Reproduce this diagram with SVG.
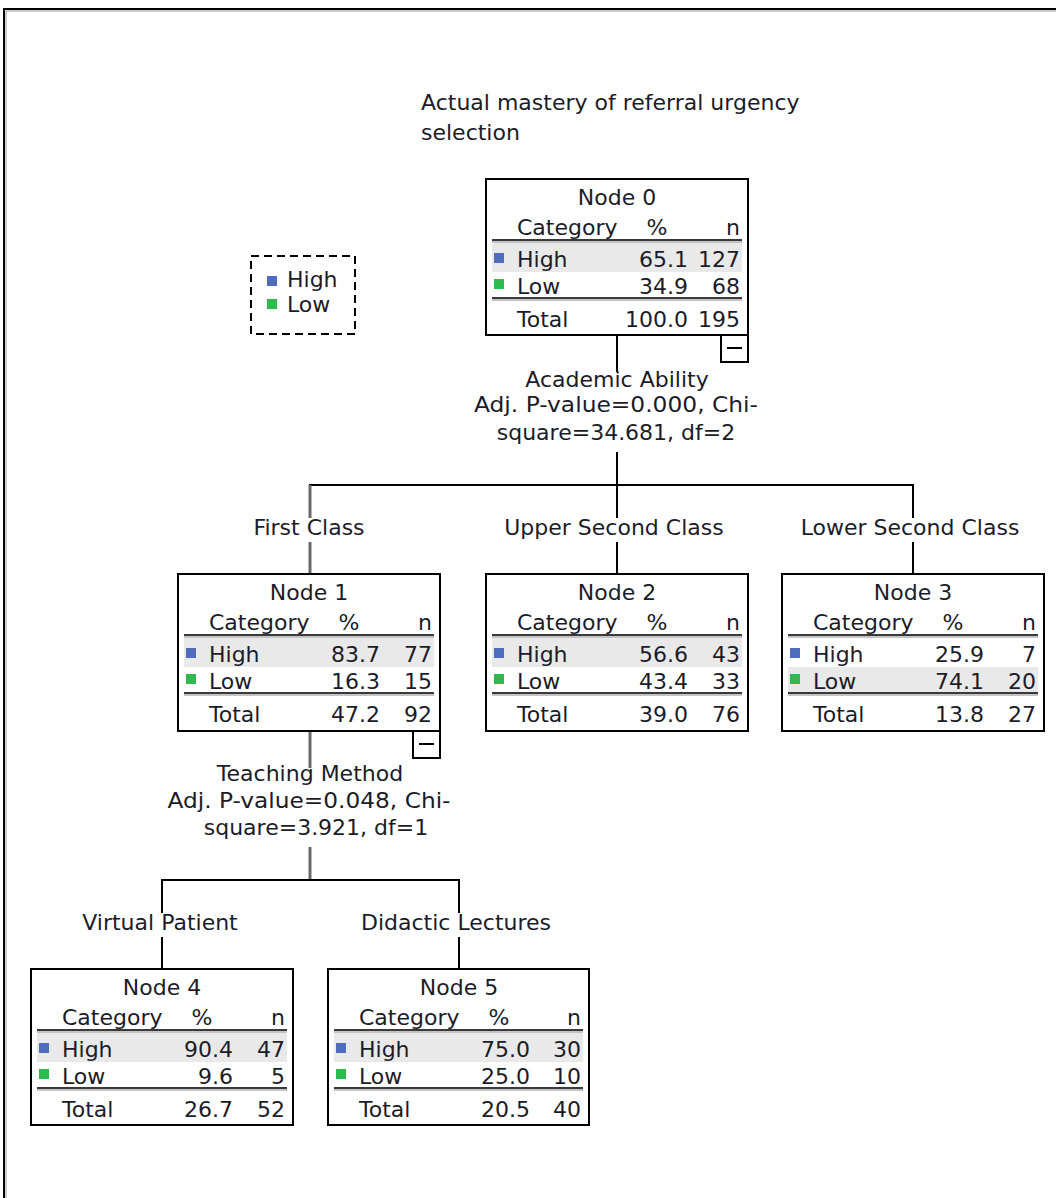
<svg xmlns="http://www.w3.org/2000/svg" width="1056" height="1198" viewBox="0 0 1056 1198">
<style>
text { font-family: "DejaVu Sans", "Liberation Sans", sans-serif; font-size: 22px; fill: #1c1c28; }
.box { fill: #fff; stroke: #000; stroke-width: 2; }
.shade { fill: #e9e9e9; }
.hl1 { stroke: #3a3a3a; stroke-width: 2; }
.hl2 { stroke: #b0b0b0; stroke-width: 1.5; }
.c { text-anchor: middle; }
.r { text-anchor: end; }
.blue { fill: #4f6cbf; }
.green { fill: #2fba4f; }
.conn { stroke: #000; stroke-width: 2; fill: none; }
.conn2 { stroke: #6a6a6a; stroke-width: 3; fill: none; }
.tog { fill: #fff; stroke: #000; stroke-width: 2; }
</style>
<rect x="0" y="0" width="1056" height="1198" fill="#fff"/>
<g id="frame">
<path d="M4 1198 V9 H1056" fill="none" stroke="#000" stroke-width="2"/>
<path d="M6 1198 V11 H1056" fill="none" stroke="#999" stroke-width="1"/>
</g>
<g id="title">
<text x="421" y="110">Actual mastery of referral urgency</text>
<text x="421" y="140">selection</text>
</g>
<g id="legend">
<rect x="251" y="256" width="104" height="78" fill="none" stroke="#000" stroke-width="2" stroke-dasharray="8,5"/>
<rect class="blue" x="267" y="276" width="10" height="10"/>
<text x="287" y="287">High</text>
<rect class="green" x="267" y="299" width="10" height="10"/>
<text x="287" y="312">Low</text>
</g>
<g id="connectors">
<line class="conn" x1="617" y1="335" x2="617" y2="372"/>
<line class="conn" x1="617" y1="452" x2="617" y2="485"/>
<line class="conn" x1="309" y1="485" x2="914" y2="485"/>
<line class="conn2" x1="310" y1="485" x2="310" y2="518"/>
<line class="conn2" x1="310" y1="542" x2="310" y2="574"/>
<line class="conn" x1="617" y1="485" x2="617" y2="518"/>
<line class="conn" x1="617" y1="542" x2="617" y2="574"/>
<line class="conn" x1="913" y1="485" x2="913" y2="518"/>
<line class="conn" x1="913" y1="542" x2="913" y2="574"/>
<line class="conn2" x1="310" y1="731" x2="310" y2="768"/>
<line class="conn2" x1="310" y1="847" x2="310" y2="880"/>
<line class="conn" x1="161" y1="880" x2="460" y2="880"/>
<line class="conn" x1="162" y1="880" x2="162" y2="913"/>
<line class="conn" x1="162" y1="937" x2="162" y2="969"/>
<line class="conn" x1="459" y1="880" x2="459" y2="913"/>
<line class="conn" x1="459" y1="937" x2="459" y2="969"/>
<text class="c" x="617" y="387">Academic Ability</text>
<text class="c" x="616" y="412" textLength="284" lengthAdjust="spacingAndGlyphs">Adj. P-value=0.000, Chi-</text>
<text class="c" x="616" y="440">square=34.681, df=2</text>
<text class="c" x="309" y="535">First Class</text>
<text class="c" x="614" y="535">Upper Second Class</text>
<text class="c" x="910" y="535">Lower Second Class</text>
<text class="c" x="310" y="781">Teaching Method</text>
<text class="c" x="309" y="808" textLength="283" lengthAdjust="spacingAndGlyphs">Adj. P-value=0.048, Chi-</text>
<text class="c" x="316" y="835">square=3.921, df=1</text>
<text class="c" x="160" y="930">Virtual Patient</text>
<text class="c" x="456" y="930">Didactic Lectures</text>
</g>
<g id="node0" transform="translate(486,179)">
<rect class="box" x="0" y="0" width="262" height="156"/>
<rect class="shade" x="6" y="64" width="250" height="29"/>
<text class="c" x="131" y="26">Node 0</text>
<text x="31" y="56">Category</text><text class="c" x="171" y="56">%</text><text class="r" x="254" y="56">n</text>
<line class="hl1" x1="6" y1="61" x2="256" y2="61"/><line class="hl2" x1="6" y1="63" x2="256" y2="63"/>
<rect class="blue" x="8" y="74" width="10" height="10"/>
<text x="31" y="88">High</text><text class="r" x="202" y="88">65.1</text><text class="r" x="254" y="88">127</text>
<rect class="green" x="8" y="100" width="10" height="10"/>
<text x="31" y="115">Low</text><text class="r" x="202" y="115">34.9</text><text class="r" x="254" y="115">68</text>
<line class="hl1" x1="6" y1="119" x2="256" y2="119"/><line class="hl2" x1="6" y1="121" x2="256" y2="121"/>
<text x="31" y="148">Total</text><text class="r" x="202" y="148">100.0</text><text class="r" x="254" y="148">195</text>
<rect class="tog" x="235" y="156" width="27" height="27"/>
<line x1="241" y1="169" x2="256" y2="169" stroke="#000" stroke-width="2"/>
</g>
<g id="node1" transform="translate(178,574)">
<rect class="box" x="0" y="0" width="262" height="157"/>
<rect class="shade" x="6" y="64" width="250" height="29"/>
<text class="c" x="131" y="26">Node 1</text>
<text x="31" y="56">Category</text><text class="c" x="171" y="56">%</text><text class="r" x="254" y="56">n</text>
<line class="hl1" x1="6" y1="61" x2="256" y2="61"/><line class="hl2" x1="6" y1="63" x2="256" y2="63"/>
<rect class="blue" x="8" y="74" width="10" height="10"/>
<text x="31" y="88">High</text><text class="r" x="202" y="88">83.7</text><text class="r" x="254" y="88">77</text>
<rect class="green" x="8" y="100" width="10" height="10"/>
<text x="31" y="115">Low</text><text class="r" x="202" y="115">16.3</text><text class="r" x="254" y="115">15</text>
<line class="hl1" x1="6" y1="119" x2="256" y2="119"/><line class="hl2" x1="6" y1="121" x2="256" y2="121"/>
<text x="31" y="148">Total</text><text class="r" x="202" y="148">47.2</text><text class="r" x="254" y="148">92</text>
<rect class="tog" x="235" y="157" width="27" height="27"/>
<line x1="241" y1="170" x2="256" y2="170" stroke="#000" stroke-width="2"/>
</g>
<g id="node2" transform="translate(486,574)">
<rect class="box" x="0" y="0" width="262" height="157"/>
<rect class="shade" x="6" y="64" width="250" height="29"/>
<text class="c" x="131" y="26">Node 2</text>
<text x="31" y="56">Category</text><text class="c" x="171" y="56">%</text><text class="r" x="254" y="56">n</text>
<line class="hl1" x1="6" y1="61" x2="256" y2="61"/><line class="hl2" x1="6" y1="63" x2="256" y2="63"/>
<rect class="blue" x="8" y="74" width="10" height="10"/>
<text x="31" y="88">High</text><text class="r" x="202" y="88">56.6</text><text class="r" x="254" y="88">43</text>
<rect class="green" x="8" y="100" width="10" height="10"/>
<text x="31" y="115">Low</text><text class="r" x="202" y="115">43.4</text><text class="r" x="254" y="115">33</text>
<line class="hl1" x1="6" y1="119" x2="256" y2="119"/><line class="hl2" x1="6" y1="121" x2="256" y2="121"/>
<text x="31" y="148">Total</text><text class="r" x="202" y="148">39.0</text><text class="r" x="254" y="148">76</text>
</g>
<g id="node3" transform="translate(782,574)">
<rect class="box" x="0" y="0" width="262" height="157"/>
<rect class="shade" x="6" y="93" width="250" height="26"/>
<text class="c" x="131" y="26">Node 3</text>
<text x="31" y="56">Category</text><text class="c" x="171" y="56">%</text><text class="r" x="254" y="56">n</text>
<line class="hl1" x1="6" y1="61" x2="256" y2="61"/><line class="hl2" x1="6" y1="63" x2="256" y2="63"/>
<rect class="blue" x="8" y="74" width="10" height="10"/>
<text x="31" y="88">High</text><text class="r" x="202" y="88">25.9</text><text class="r" x="254" y="88">7</text>
<rect class="green" x="8" y="100" width="10" height="10"/>
<text x="31" y="115">Low</text><text class="r" x="202" y="115">74.1</text><text class="r" x="254" y="115">20</text>
<line class="hl1" x1="6" y1="119" x2="256" y2="119"/><line class="hl2" x1="6" y1="121" x2="256" y2="121"/>
<text x="31" y="148">Total</text><text class="r" x="202" y="148">13.8</text><text class="r" x="254" y="148">27</text>
</g>
<g id="node4" transform="translate(31,969)">
<rect class="box" x="0" y="0" width="262" height="156"/>
<rect class="shade" x="6" y="64" width="250" height="29"/>
<text class="c" x="131" y="26">Node 4</text>
<text x="31" y="56">Category</text><text class="c" x="171" y="56">%</text><text class="r" x="254" y="56">n</text>
<line class="hl1" x1="6" y1="61" x2="256" y2="61"/><line class="hl2" x1="6" y1="63" x2="256" y2="63"/>
<rect class="blue" x="8" y="74" width="10" height="10"/>
<text x="31" y="88">High</text><text class="r" x="202" y="88">90.4</text><text class="r" x="254" y="88">47</text>
<rect class="green" x="8" y="100" width="10" height="10"/>
<text x="31" y="115">Low</text><text class="r" x="202" y="115">9.6</text><text class="r" x="254" y="115">5</text>
<line class="hl1" x1="6" y1="119" x2="256" y2="119"/><line class="hl2" x1="6" y1="121" x2="256" y2="121"/>
<text x="31" y="148">Total</text><text class="r" x="202" y="148">26.7</text><text class="r" x="254" y="148">52</text>
</g>
<g id="node5" transform="translate(328,969)">
<rect class="box" x="0" y="0" width="261" height="156"/>
<rect class="shade" x="6" y="64" width="249" height="29"/>
<text class="c" x="131" y="26">Node 5</text>
<text x="31" y="56">Category</text><text class="c" x="171" y="56">%</text><text class="r" x="253" y="56">n</text>
<line class="hl1" x1="6" y1="61" x2="255" y2="61"/><line class="hl2" x1="6" y1="63" x2="255" y2="63"/>
<rect class="blue" x="8" y="74" width="10" height="10"/>
<text x="31" y="88">High</text><text class="r" x="202" y="88">75.0</text><text class="r" x="253" y="88">30</text>
<rect class="green" x="8" y="100" width="10" height="10"/>
<text x="31" y="115">Low</text><text class="r" x="202" y="115">25.0</text><text class="r" x="253" y="115">10</text>
<line class="hl1" x1="6" y1="119" x2="255" y2="119"/><line class="hl2" x1="6" y1="121" x2="255" y2="121"/>
<text x="31" y="148">Total</text><text class="r" x="202" y="148">20.5</text><text class="r" x="253" y="148">40</text>
</g>
</svg>
